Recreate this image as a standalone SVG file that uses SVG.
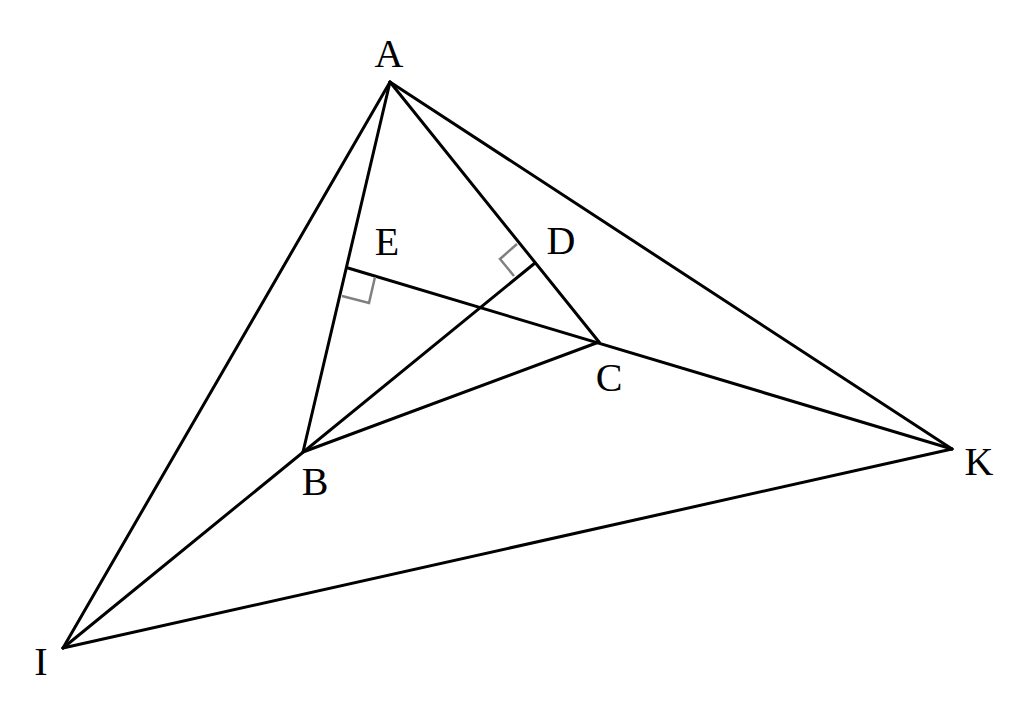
<svg xmlns="http://www.w3.org/2000/svg" width="1024" height="703" viewBox="0 0 1024 703">
<style>
.ln{stroke:#000;stroke-width:3;fill:none;stroke-linecap:round;stroke-linejoin:round}
.ra{stroke:#808080;stroke-width:2.5;fill:none}
.lb{font-family:"Liberation Serif","Times New Roman",serif;font-size:40px;fill:#000;text-anchor:middle}
</style>
<rect width="1024" height="703" fill="#fff"/>
<g id="connectors">
<line class="ln" x1="390" y1="82" x2="63" y2="648"/>
<line class="ln" x1="390" y1="82" x2="303" y2="452"/>
<line class="ln" x1="390" y1="82" x2="599" y2="342"/>
<line class="ln" x1="390" y1="82" x2="952" y2="449"/>
<line class="ln" x1="63" y1="648" x2="952" y2="449"/>
<line class="ln" x1="63" y1="648" x2="535" y2="263"/>
<line class="ln" x1="348" y1="268" x2="952" y2="449"/>
<line class="ln" x1="303" y1="452" x2="599" y2="342"/>
</g>
<g id="right-angles">
<polyline class="ra" points="342,296 369,303 375,277"/>
<polyline class="ra" points="517,244 500,259 514,276"/>
</g>
<g id="A"><text class="lb" x="389" y="67">A</text></g>
<g id="E"><text class="lb" x="387" y="255">E</text></g>
<g id="D"><text class="lb" x="561" y="254">D</text></g>
<g id="C"><text class="lb" x="609" y="391">C</text></g>
<g id="B"><text class="lb" x="315" y="495">B</text></g>
<g id="K"><text class="lb" x="979" y="475">K</text></g>
<g id="I"><text class="lb" x="41" y="675">I</text></g>
</svg>
